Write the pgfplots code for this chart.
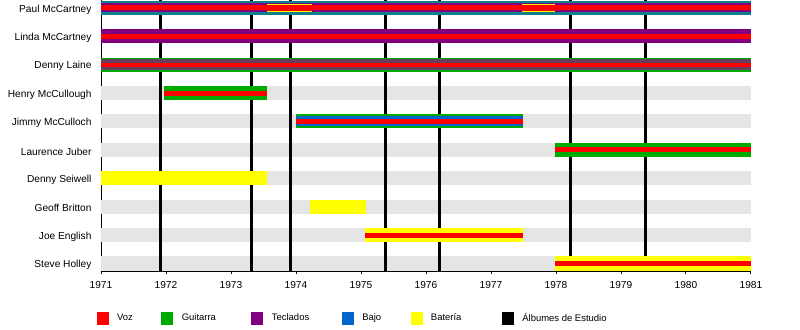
\documentclass[border=0pt]{standalone}
\usepackage{fontspec}
\setmainfont{Liberation Sans}
\usepackage{pgfplots}
\pgfplotsset{compat=1.18}
\definecolor{cvoz}{RGB}{255,0,0}
\definecolor{cgui}{RGB}{0,170,0}
\definecolor{ctec}{RGB}{128,0,128}
\definecolor{cbaj}{RGB}{0,102,204}
\definecolor{cbat}{RGB}{255,255,0}
\definecolor{cteal}{RGB}{16,128,140}
\definecolor{cdark}{RGB}{100,64,90}
\definecolor{cband}{RGB}{229,229,229}
\newcommand{\seg}[5]{%
  \pgfmathsetmacro{\ya}{#3-#4}\pgfmathsetmacro{\yb}{#3+#4}%
  \edef\tmp{\noexpand\addplot[fill=#5,draw=none,forget plot] coordinates {(#1,\ya) (#2,\ya) (#2,\yb) (#1,\yb)};}\tmp}
\newcommand{\alb}[1]{\addplot[black,line width=3bp,forget plot] coordinates {(#1,0) (#1,271)};}
\begin{document}
\begin{tikzpicture}
\useasboundingbox (0,0) rectangle (800bp,330bp);
\begin{axis}[
  at={(101bp,59bp)}, anchor=south west,
  scale only axis, width=650bp, height=271bp,
  xmin=1971, xmax=1981, ymin=0, ymax=271,
  axis x line*=bottom, axis y line*=left,
  axis line style={line width=0.9bp},
  xtick={1971,1972,...,1981},
  /pgf/number format/1000 sep={},
  tick align=outside, major tick length=3bp,
  x tick style={black,line width=0.9bp},
  y tick style={draw=none},
  ytick={7.5,35.9,64.3,92.7,121.1,149.5,177.9,206.3,234.7,263.1},
  yticklabels={Steve Holley,Joe English,Geoff Britton,Denny Seiwell,Laurence Juber,Jimmy McCulloch,Henry McCullough,Denny Laine,Linda McCartney,Paul McCartney},
  /pgf/number format/assume math mode=true,
  tick label style={font=\fontsize{10.2}{12}\selectfont},
  y tick label style={xshift=-3bp, yshift=-1.5bp},
  x tick label style={yshift=-3.5bp},
  legend columns=6,
  legend cell align=left,
  legend style={at={(0,0)}, anchor=west, xshift=-4.3bp, yshift=-47bp,
    draw=none, fill=none, inner sep=0pt, outer sep=0pt,
    column sep=0pt, nodes={inner sep=0pt},
    font=\fontsize{9.5}{11}\selectfont},
]
% row bands
\seg{1971}{1981}{263.1}{7}{cband}
\seg{1971}{1981}{234.7}{7}{cband}
\seg{1971}{1981}{206.3}{7}{cband}
\seg{1971}{1981}{177.9}{7}{cband}
\seg{1971}{1981}{149.5}{7}{cband}
\seg{1971}{1981}{121.1}{7}{cband}
\seg{1971}{1981}{92.7}{7}{cband}
\seg{1971}{1981}{64.3}{7}{cband}
\seg{1971}{1981}{35.9}{7}{cband}
\seg{1971}{1981}{7.5}{7}{cband}
% studio albums
\alb{1971.91}
\alb{1973.31}
\alb{1973.91}
\alb{1975.38}
\alb{1976.2}
\alb{1978.22}
\alb{1979.38}
% Paul McCartney
\seg{1971}{1981}{263.1}{7}{cteal}
\seg{1971}{1981}{263.1}{4.5}{ctec}
\seg{1971}{1981}{263.1}{2.5}{cvoz}
\seg{1973.55}{1974.25}{263.1}{4}{cbat}
\seg{1973.55}{1974.25}{263.1}{3}{cvoz}
\seg{1977.47}{1977.99}{263.1}{4}{cbat}
\seg{1977.47}{1977.99}{263.1}{3}{cvoz}
% Linda McCartney
\seg{1971}{1981}{234.7}{7}{ctec}
\seg{1971}{1981}{234.7}{2.5}{cvoz}
% Denny Laine
\seg{1971}{1981}{206.3}{7}{cgui}
\seg{1971}{1981}{206.3}{5.5}{cdark}
\seg{1971}{1981}{206.3}{2}{cvoz}
% Henry McCullough
\seg{1971.97}{1973.56}{177.9}{7}{cgui}
\seg{1971.97}{1973.56}{177.9}{2.5}{cvoz}
% Jimmy McCulloch
\seg{1974.0}{1977.49}{149.5}{7}{cgui}
\seg{1974.0}{1977.49}{149.5}{5}{cbaj}
\seg{1974.0}{1977.49}{149.5}{2.5}{cvoz}
% Laurence Juber
\seg{1977.98}{1981}{121.1}{7}{cgui}
\seg{1977.98}{1981}{121.1}{2.5}{cvoz}
% Denny Seiwell
\seg{1971}{1973.56}{92.7}{7}{cbat}
% Geoff Britton
\seg{1974.22}{1975.08}{64.3}{7}{cbat}
% Joe English
\seg{1975.06}{1977.49}{35.9}{7}{cbat}
\seg{1975.06}{1977.49}{35.9}{2.5}{cvoz}
% Steve Holley
\seg{1977.98}{1981}{7.5}{7}{cbat}
\seg{1977.98}{1981}{7.5}{2.5}{cvoz}
% legend
\addlegendimage{legend image code/.code={\fill[cvoz] (0bp,-6bp) rectangle (11bp,6bp);}}
\addlegendentry{\hspace*{9bp}\makebox[44.3bp][l]{Voz}}
\addlegendimage{legend image code/.code={\fill[cgui] (0bp,-6bp) rectangle (11bp,6bp);}}
\addlegendentry{\hspace*{9bp}\makebox[69.7bp][l]{Guitarra}}
\addlegendimage{legend image code/.code={\fill[ctec] (0bp,-6bp) rectangle (11bp,6bp);}}
\addlegendentry{\hspace*{9bp}\makebox[70bp][l]{Teclados}}
\addlegendimage{legend image code/.code={\fill[cbaj] (0bp,-6bp) rectangle (11bp,6bp);}}
\addlegendentry{\hspace*{9bp}\makebox[48.3bp][l]{Bajo}}
\addlegendimage{legend image code/.code={\fill[cbat] (0bp,-6bp) rectangle (11bp,6bp);}}
\addlegendentry{\hspace*{9bp}\makebox[71bp][l]{Batería}}
\addlegendimage{legend image code/.code={\fill[black] (0bp,-6bp) rectangle (11bp,6bp);}}
\addlegendentry{\hspace*{9bp}Álbumes de Estudio}
\end{axis}
\end{tikzpicture}
\end{document}
